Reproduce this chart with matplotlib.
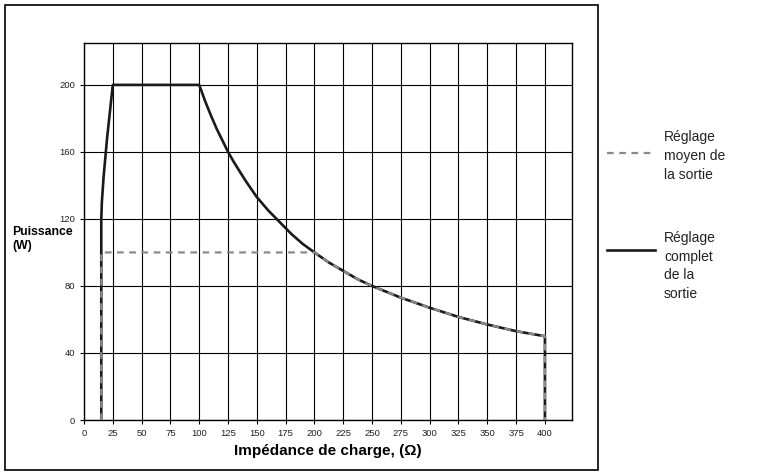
import matplotlib
matplotlib.use('Agg')
from matplotlib import pyplot as plt
from matplotlib.patches import Rectangle
from matplotlib.lines import Line2D

# full output setting (solid black)
full_r = [15, 15, 15.5, 17, 20, 25, 100, 105, 110, 115, 120, 125, 130, 140, 150,
          160, 170, 180, 190, 200, 212.5, 225, 237.5, 250, 275, 300, 325, 350, 375, 400, 400]
full_p = [0, 120, 130, 145, 168, 200, 200, 190.5, 182, 174, 167, 160, 154, 143, 133,
          125, 118, 111, 105, 100, 94, 89, 84, 80, 73, 67, 61.5, 57, 53, 50, 0]

# average output setting (grey dashed)
avg_r = [15, 15, 200, 212.5, 225, 237.5, 250, 275, 300, 325, 350, 375, 400, 400]
avg_p = [0, 100, 100, 94, 89, 84, 80, 73, 67, 61.5, 57, 53, 50, 0]

x_ticks = list(range(0, 401, 25))
y_ticks = list(range(0, 201, 40))

plt.rcParams['font.family'] = ['Liberation Sans', 'DejaVu Sans']

fig = plt.figure(figsize=(7.66, 4.73), dpi=100)
ax = fig.add_axes([84 / 766, 53 / 473, 488 / 766, 377 / 473])

ax.set_xlim(0, 423.5)
ax.set_ylim(0, 225)
ax.set_xticks(x_ticks)
ax.set_yticks(y_ticks)
ax.tick_params(labelsize=6.8, length=3, width=0.8, color='black', labelcolor='#222222')
ax.grid(True, color='black', linewidth=0.8)
for s in ax.spines.values():
    s.set_linewidth(1)

ax.plot(full_r, full_p, color='#1a1a1a', linewidth=1.9, solid_joinstyle='round', zorder=3)
ax.plot(avg_r, avg_p, color='#8a8a8a', linewidth=1.6, linestyle=(0, (3, 2.5)), zorder=4)

ax.set_xlabel('Impédance de charge, (Ω)', fontsize=11, fontweight='bold', labelpad=4)
fig.text(12 / 766, 1 - 239 / 473, 'Puissance\n(W)', fontsize=8.8, fontweight='bold',
         ha='left', va='center', linespacing=1.25)

# outer frame around the plot
fig.patches.append(Rectangle((5 / 766, 3 / 473), 593 / 766, 465 / 473, transform=fig.transFigure,
                             fill=False, edgecolor='black', linewidth=1.2))

# legend drawn by hand outside the frame
fig.add_artist(Line2D([607 / 766, 653 / 766], [1 - 153 / 473] * 2, transform=fig.transFigure,
                      color='#8a8a8a', linewidth=1.6, linestyle=(0, (3, 2.5))))
fig.text(664 / 766, 1 - 156 / 473, 'Réglage\nmoyen de\nla sortie', fontsize=10,
         ha='left', va='center', linespacing=1.45, color='#222222')
fig.add_artist(Line2D([607 / 766, 655 / 766], [1 - 250 / 473] * 2, transform=fig.transFigure,
                      color='#1a1a1a', linewidth=1.9))
fig.text(664 / 766, 1 - 266 / 473, 'Réglage\ncomplet\nde la\nsortie', fontsize=10,
         ha='left', va='center', linespacing=1.45, color='#222222')

plt.savefig('out.png', dpi=100)
